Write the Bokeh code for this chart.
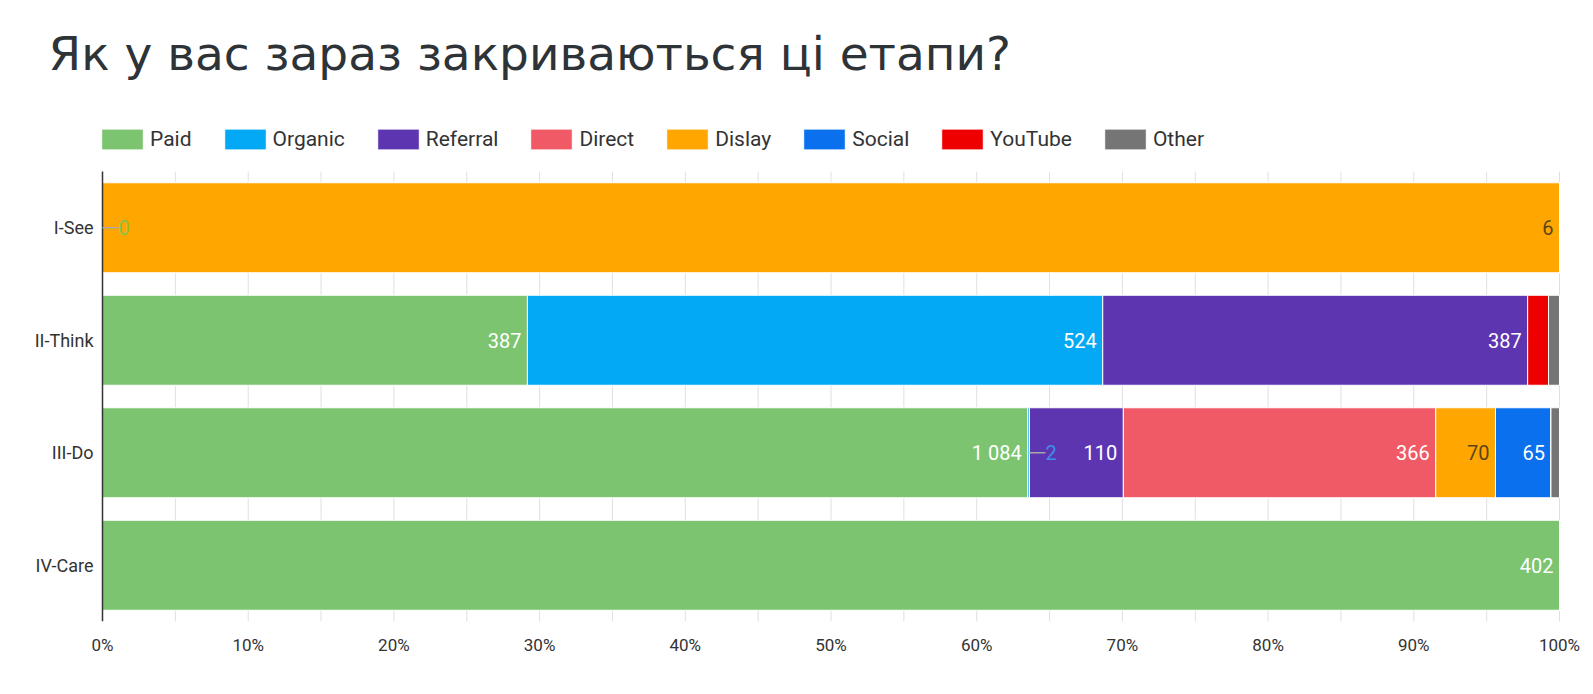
from bokeh.plotting import figure
from bokeh.models import (Range1d, FixedTicker, Label, Legend, LegendItem,
                          ColumnDataSource, PrintfTickFormatter)
from bokeh.core.properties import value
from bokeh.embed import file_html
from bokeh.resources import INLINE

# ---- data ----
stages = ["I-See", "II-Think", "III-Do", "IV-Care"]
series = ["Paid", "Organic", "Referral", "Direct", "Dislay", "Social", "YouTube", "Other"]
paid = [0, 387, 1084, 402]
organic = [0, 524, 2, 0]
referral = [0, 387, 110, 0]
direct = [0, 0, 366, 0]
dislay = [6, 0, 70, 0]
social = [0, 0, 65, 0]
youtube = [0, 19, 0, 0]
other = [0, 10, 10, 0]
x_ticks = [0, 10, 20, 30, 40, 50, 60, 70, 80, 90, 100]
x_minor = [5, 15, 25, 35, 45, 55, 65, 75, 85, 95]
# labels drawn outside their (tiny) segment with a leader line
leader_labels = [("I-See", "Paid"), ("III-Do", "Organic")]

colors = ["#7CC470", "#03A9F4", "#5E35B1", "#F05A66", "#FFA600", "#0A70EE", "#EE0000", "#757575"]
label_colors = ["#ffffff", "#ffffff", "#ffffff", "#ffffff", "#5a4716", "#ffffff", "#ffffff", "#ffffff"]
leader_colors = {"Paid": "#8BC34A", "Organic": "#3D8EE8"}

values = dict(zip(series, [paid, organic, referral, direct, dislay, social, youtube, other]))
totals = [sum(values[s][i] for s in series) for i in range(len(stages))]
pct = {s: [100.0 * values[s][i] / totals[i] for i in range(len(stages))] for s in series}
ypos = [len(stages) - 1 - i for i in range(len(stages))]  # first stage on top

src = ColumnDataSource(dict(stage=stages, ypos=ypos, **pct))

# layout (pixels)
W, H = 1593, 694
frame_left, frame_right, frame_top, frame_bottom = 102, 1559, 171, 621
px_per_pct = (frame_right - frame_left) / 100.0
px_per_row = (frame_bottom - frame_top) / len(stages)

p = figure(width=W, height=H,
           x_range=Range1d(-frame_left / px_per_pct, 100 + (W - frame_right) / px_per_pct),
           y_range=Range1d(-0.5, len(stages) - 0.5 + frame_top / px_per_row),
           output_backend="svg", toolbar_location=None, y_axis_location=None,
           min_border_left=0, min_border_right=0, min_border_top=0,
           min_border_bottom=H - frame_bottom, background_fill_color="white",
           border_fill_color="white")
p.outline_line_color = None
p.xgrid.visible = False
p.ygrid.visible = False

# vertical grid lines (behind bars)
gx = x_ticks[1:] + x_minor
p.segment(x0=gx, x1=gx, y0=-0.5, y1=len(stages) - 0.5, line_color="#e0e0e0", line_width=1)

rs = p.hbar_stack(series, y="ypos", height=0.8, color=colors, source=src,
                  line_color="white", line_width=1)

# y axis line + category labels
p.segment(x0=[0], x1=[0], y0=[-0.5], y1=[len(stages) - 0.5], line_color="#333333", line_width=1.5)
p.text(x=[0] * len(stages), y=ypos, text=stages, text_align="right", text_baseline="middle",
       x_offset=-9, text_font=value("Roboto"), text_font_size="18px", text_color="#333333")

# segment value labels
lx, ly, lt, lc = [], [], [], []
ox, oy, ot, oc, ox0 = [], [], [], [], []
for i, st in enumerate(stages):
    cum = 0.0
    for k, s in enumerate(series):
        v = values[s][i]
        w = pct[s][i]
        start = cum
        cum += w
        txt = f"{v:,}".replace(",", " ")
        if (st, s) in leader_labels:
            ox0.append(start + w)
            ox.append(start + w + 16 / px_per_pct)
            oy.append(ypos[i])
            ot.append(txt)
            oc.append(leader_colors[s])
        elif w >= 3:
            lx.append(cum)
            ly.append(ypos[i])
            lt.append(txt)
            lc.append(label_colors[k])

p.text(x="x", y="y", text="t", text_color="c",
       source=ColumnDataSource(dict(x=lx, y=ly, t=lt, c=lc)),
       text_align="right", text_baseline="middle", x_offset=-6,
       text_font=value("Roboto"), text_font_size="20px")
p.segment(x0="x0", x1="x1", y0="y", y1="y",
          source=ColumnDataSource(dict(x0=ox0, x1=ox, y=oy)),
          line_color="#a8a8a8", line_width=1.5)
p.text(x="x", y="y", text="t", text_color="c",
       source=ColumnDataSource(dict(x=ox, y=oy, t=ot, c=oc)),
       text_align="left", text_baseline="middle", x_offset=0,
       text_font=value("Roboto"), text_font_size="20px")

# x axis
p.xaxis.ticker = FixedTicker(ticks=x_ticks, minor_ticks=x_minor)
p.xaxis.formatter = PrintfTickFormatter(format="%d%%")
p.xaxis.axis_line_color = None
p.xaxis.major_tick_line_color = None
p.xaxis.minor_tick_line_color = None
p.xaxis.major_label_text_font = "Roboto"
p.xaxis.major_label_text_font_size = "17px"
p.xaxis.major_label_text_color = "#333333"
p.xaxis.major_label_standoff = 7

# title
p.add_layout(Label(x=48, y=frame_bottom - 53, x_units="screen", y_units="screen",
                   text="Як у вас зараз закриваються ці етапи?",
                   text_font="DejaVu Sans", text_font_size="47px",
                   text_color="#2e3338", text_baseline="alphabetic"))

# legend
legend = Legend(items=[LegendItem(label=s, renderers=[r]) for s, r in zip(series, rs)],
                orientation="horizontal", location=(frame_left - 6, frame_bottom - 152),
                glyph_width=52, glyph_height=26, label_standoff=2, spacing=27,
                padding=0, margin=0, border_line_color=None,
                background_fill_alpha=0, label_text_font="Roboto",
                label_text_font_size="21px", label_text_color="#333333",
                label_height=26)
p.add_layout(legend)

open("out.html", "w").write(file_html(p, INLINE))
